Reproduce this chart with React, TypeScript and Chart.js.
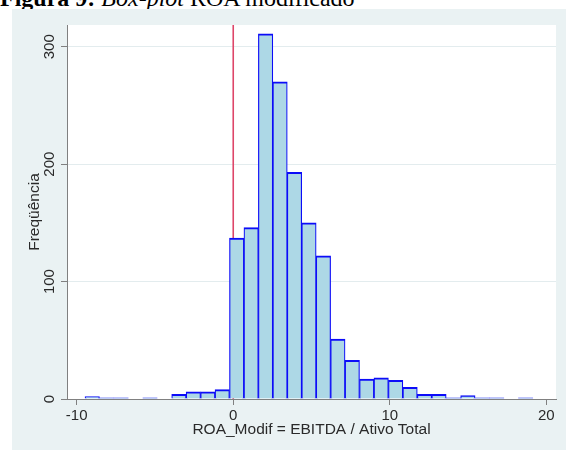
import React, { useEffect, useRef } from 'react';
import { Chart, registerables } from 'chart.js';

Chart.register(...registerables);

// Histogram bins: first bin edge and width (in x units)
const binStart = -9.47;
const binWidth = 0.923;
// Frequencies per bin, left to right
const counts = [2, 1, 1, 0, 1, 0, 4, 6, 6, 8, 137, 146, 311, 270, 193, 150, 122, 51, 33, 17, 18, 16, 10, 4, 4, 1, 3, 1, 1, 0, 1];

const xTicks = [-10, 0, 10, 20];
const yTicks = [0, 100, 200, 300];
const xRange = [-10.62, 20.62];
const yRange = [0, 318.5];
const refLineValue = 0;

const xTitle = 'ROA_Modif = EBITDA / Ativo Total';
const yTitle = 'Freqüência';

const FONT = '"Liberation Sans", Arial, Helvetica, sans-serif';
const axisColor = '#808080';
const gridColor = '#E3ECEE';
const textColor = '#2a2a2a';
const panelColor = 'rgb(234,242,243)';

export default function App() {
  const canvasRef = useRef<HTMLCanvasElement | null>(null);

  useEffect(() => {
    const canvas = canvasRef.current;
    if (!canvas) return;

    const plotBg = {
      id: 'plotBg',
      beforeDraw(chart: any) {
        const { ctx, chartArea: a } = chart;
        ctx.save();
        ctx.fillStyle = '#ffffff';
        ctx.fillRect(a.left, a.top, a.right - a.left, a.bottom - a.top);
        ctx.restore();
      },
    };

    const refLine = {
      id: 'refLine',
      beforeDatasetsDraw(chart: any) {
        const { ctx, chartArea: a } = chart;
        const x = chart.scales.x.getPixelForValue(refLineValue);
        ctx.save();
        ctx.strokeStyle = 'rgb(222,70,105)';
        ctx.lineWidth = 1.6;
        ctx.beginPath();
        ctx.moveTo(x, a.top);
        ctx.lineTo(x, a.bottom);
        ctx.stroke();
        ctx.restore();
      },
    };

    const chart = new Chart(canvas, {
      type: 'bar',
      data: {
        datasets: [
          {
            data: counts.map((c, i) => ({ x: binStart + binWidth * (i + 0.5), y: c })),
            backgroundColor: '#ADD8E6',
            borderColor: '#0C0CF8',
            borderWidth: { top: 2, left: 1.2, right: 1.2, bottom: 0 } as any,
            borderSkipped: 'start',
            barPercentage: 1,
            categoryPercentage: 1,
          },
        ],
      },
      options: {
        animation: false,
        responsive: false,
        layout: { padding: { top: 16, right: 10, left: 0, bottom: 0 } },
        plugins: { legend: { display: false }, tooltip: { enabled: false } },
        scales: {
          x: {
            type: 'linear',
            offset: false,
            min: xRange[0],
            max: xRange[1],
            afterBuildTicks: (s: any) => {
              s.ticks = xTicks.map((v) => ({ value: v }));
            },
            afterFit: (s: any) => {
              s.height = 51;
            },
            grid: { offset: false, drawOnChartArea: false, drawTicks: true, tickLength: 6, tickColor: axisColor },
            border: { color: axisColor, width: 1 },
            ticks: { font: { family: FONT, size: 15 }, color: textColor, padding: 2, maxRotation: 0, autoSkip: false },
            title: { display: true, text: xTitle, font: { family: FONT, size: 15.5 }, color: textColor, padding: { top: 0, bottom: 10.5 } },
          },
          y: {
            type: 'linear',
            min: yRange[0],
            max: yRange[1],
            afterBuildTicks: (s: any) => {
              s.ticks = yTicks.map((v) => ({ value: v }));
            },
            afterFit: (s: any) => {
              s.width = 55;
            },
            grid: {
              color: (ctx: any) => (ctx.tick && ctx.tick.value === 0 ? 'rgba(0,0,0,0)' : gridColor),
              tickColor: axisColor,
              tickLength: 6,
              drawTicks: true,
            },
            border: { color: axisColor, width: 1 },
            ticks: { font: { family: FONT, size: 15 }, color: textColor, minRotation: 90, maxRotation: 90, crossAlign: 'center', padding: -1.5, autoSkip: false },
            title: { display: true, text: yTitle, font: { family: FONT, size: 15.5 }, color: textColor, padding: { top: 13.5, bottom: 0 } },
          },
        },
      } as any,
      plugins: [plotBg, refLine],
    });

    return () => chart.destroy();
  }, []);

  return (
    <div style={{ position: 'absolute', left: 0, top: 0, width: 566, height: 450, overflow: 'hidden', background: '#ffffff' }}>
      <div
        style={{
          position: 'absolute',
          left: 0,
          top: -14,
          whiteSpace: 'nowrap',
          fontFamily: '"Liberation Serif", "Times New Roman", serif',
          fontSize: 24,
          lineHeight: '24px',
          color: '#000',
        }}
      >
        <b>Figura 9:</b> <i>Box-plot</i> ROA modificado
      </div>
      <div style={{ position: 'absolute', left: 12, top: 9, width: 554, height: 441, background: panelColor }}>
        <canvas ref={canvasRef} width={554} height={441} style={{ display: 'block', width: 554, height: 441 }} />
      </div>
    </div>
  );
}
